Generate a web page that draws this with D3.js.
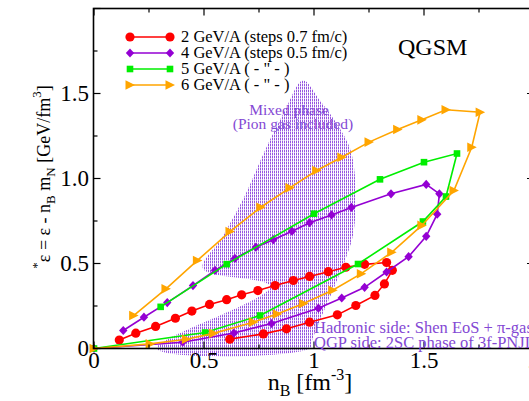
<!DOCTYPE html>
<html>
<head>
<meta charset="utf-8">
<script src="https://cdn.jsdelivr.net/npm/d3@7"></script>
<style>
  body { margin: 0; background: #fff; }
  svg { display: block; font-family: "Liberation Serif", "DejaVu Serif", serif; }
</style>
</head>
<body>
<div id="chart"></div>
<script>
/* trajectories in the (nB, eps*) plane, QGSM */

var w = 529,
	h = 401;

// 2 GeV/A, steps 0.7 fm/c
var red_x = [0.115, 0.19, 0.28, 0.37, 0.445, 0.525, 0.603, 0.671, 0.745, 0.823, 0.906, 0.98, 1.065, 1.145, 1.23, 1.33,
	1.356, 1.32, 1.277, 1.19, 1.106, 0.98, 0.875, 0.77, 0.617];
var red_y = [0.05, 0.09, 0.13, 0.178, 0.22, 0.259, 0.287, 0.316, 0.341, 0.37, 0.4, 0.424, 0.452, 0.478, 0.495, 0.506,
	0.46, 0.38, 0.312, 0.253, 0.198, 0.155, 0.116, 0.086, 0.055];

// 4 GeV/A, steps 0.5 fm/c
var purple_x = [0.133, 0.227, 0.333, 0.45, 0.55, 0.64, 0.736, 0.815, 0.9, 0.98, 1.08, 1.17, 1.35, 1.51,
	1.57, 1.56, 1.51, 1.43, 1.33, 1.23, 1.126, 1.02, 0.807, 0.636, 0.403, 0];
var purple_y = [0.106, 0.184, 0.27, 0.37, 0.46, 0.53, 0.596, 0.64, 0.69, 0.74, 0.786, 0.83, 0.91, 0.965,
	0.91, 0.79, 0.66, 0.54, 0.45, 0.36, 0.297, 0.237, 0.147, 0.091, 0.037, 0];

// 5 GeV/A
var green_x = [0.303, 0.603, 1.0, 1.3, 1.5, 1.65, 1.6, 1.495, 1.2, 0.755, 0.505, 0];
var green_y = [0.245, 0.496, 0.793, 0.995, 1.096, 1.147, 0.894, 0.747, 0.497, 0.194, 0.094, 0];

// 6 GeV/A
var orange_x = [0.18, 0.327, 0.47, 0.618, 0.758, 0.89, 1.012, 1.126, 1.25, 1.38, 1.49, 1.6,
	1.755, 1.717, 1.636, 1.49, 1.353, 1.215, 1.085, 0.952, 0.833, 0.724, 0.543, 0.42, 0.255, 0];
var orange_y = [0.194, 0.351, 0.518, 0.688, 0.831, 0.945, 1.047, 1.125, 1.214, 1.288, 1.345, 1.404,
	1.39, 1.184, 0.929, 0.724, 0.566, 0.44, 0.343, 0.265, 0.203, 0.155, 0.089, 0.054, 0.027, 0];

// mixed phase region (pion gas included)
var mix_x = [0.286, 0.8, 0.495, 0.582, 0.686, 0.777, 0.868, 0.95, 1.027, 1.109, 1.164, 1.186, 1.19, 1.177, 1.141, 1.095, 1.036, 0.991, 0.98];
var mix_y = [0, 0.365, 0.47, 0.653, 0.9, 1.165, 1.4, 1.576, 1.459, 1.312, 1.176, 1.018, 0.841, 0.665, 0.518, 0.371, 0.194, 0.047, 0];

var series_names = ["2 GeV/A (steps 0.7 fm/c)", "4 GeV/A (steps 0.5 fm/c)", "5 GeV/A ( - \" - )", "6 GeV/A ( - \" - )"];
var series_colors = ["#ff0000", "#9400d3", "#00ee00", "#ffa500"];

var x_ticks = [0, 0.5, 1, 1.5, 2];
var x_tick_labels = ["0", "0.5", "1", "1.5", "2"];
var y_ticks = [0, 0.5, 1, 1.5];
var y_tick_labels = ["0", "0.5", "1.0", "1.5"];

var x = d3.scaleLinear().domain([0, 2]).range([94, 534]);
var y = d3.scaleLinear().domain([0, 2]).range([348.5, 8.5]);

var svg = d3.select("#chart")
	.append("svg")
	.attr("width", w)
	.attr("height", h);

var defs = svg.append("defs");
var pat = defs.append("pattern")
	.attr("id", "hatch")
	.attr("patternUnits", "userSpaceOnUse")
	.attr("width", 2)
	.attr("height", 3);
pat.append("rect")
	.attr("x", 0).attr("y", 0)
	.attr("width", 1).attr("height", 2.4)
	.attr("fill", "#9656e0");

function pts(xs, ys) {
	return xs.map(function(v, i){ return [v, ys[i]]; });
}

// hatched region
svg.append("path")
	.datum(pts(mix_x, mix_y))
	.attr("d", d3.line().x(function(d){ return x(d[0]); }).y(function(d){ return y(d[1]); }).curve(d3.curveCatmullRomClosed.alpha(0.5)))
	.attr("fill", "url(#hatch)")
	.attr("stroke", "none");

svg.append("text")
	.attr("x", 289).attr("y", 115)
	.attr("text-anchor", "middle")
	.attr("font-size", 15.5)
	.attr("fill", "#8448d4")
	.text("Mixed phase");
svg.append("text")
	.attr("x", 293).attr("y", 129)
	.attr("text-anchor", "middle")
	.attr("font-size", 15.5)
	.attr("fill", "#8448d4")
	.text("(Pion gas included)");

// markers
function marker(sel, kind, color) {
	if (kind == "circle") {
		sel.append("circle").attr("r", 4.6).attr("fill", color);
	} else if (kind == "diamond") {
		sel.append("path").attr("d", "M0,-4.6L4.2,0L0,4.6L-4.2,0Z").attr("fill", color);
	} else if (kind == "square") {
		sel.append("rect").attr("x", -3.3).attr("y", -3.3).attr("width", 6.6).attr("height", 6.6).attr("fill", color);
	} else {
		sel.append("path").attr("d", "M5,0L-4.5,-4.8L-4.5,4.8Z").attr("fill", color);
	}
}

var kinds = ["circle", "diamond", "square", "triangle"];
var all_x = [red_x, purple_x, green_x, orange_x];
var all_y = [red_y, purple_y, green_y, orange_y];

var line = d3.line()
	.x(function(d){ return x(d[0]); })
	.y(function(d){ return y(d[1]); });

all_x.forEach(function(xs, k){
	var data = pts(xs, all_y[k]);
	svg.append("path")
		.datum(data)
		.attr("d", line)
		.attr("fill", "none")
		.attr("stroke", series_colors[k])
		.attr("stroke-width", 1.6);
	svg.selectAll("g.m" + k)
		.data(data)
		.enter()
		.append("g")
		.classed("m" + k, true)
		.attr("transform", function(d){ return "translate(" + x(d[0]) + "," + y(d[1]) + ")"; })
		.each(function(){ marker(d3.select(this), kinds[k], series_colors[k]); });
});

// frame and ticks
svg.append("rect")
	.attr("x", 93.5).attr("y", 8.5)
	.attr("width", 441).attr("height", 340)
	.attr("fill", "none")
	.attr("stroke", "#000")
	.attr("stroke-width", 1.6);

d3.range(0, 2.01, 0.25).forEach(function(v){
	var major = Math.abs(v * 2 - Math.round(v * 2)) < 1e-6;
	var len = major ? 7 : 4;
	svg.append("line").attr("x1", x(v)).attr("x2", x(v)).attr("y1", 348.5).attr("y2", 348.5 - len).attr("stroke", "#000").attr("stroke-width", 1.2);
	svg.append("line").attr("x1", x(v)).attr("x2", x(v)).attr("y1", 8.5).attr("y2", 8.5 + len).attr("stroke", "#000").attr("stroke-width", 1.2);
	svg.append("line").attr("y1", y(v)).attr("y2", y(v)).attr("x1", 93.5).attr("x2", 93.5 + len).attr("stroke", "#000").attr("stroke-width", 1.2);
	svg.append("line").attr("y1", y(v)).attr("y2", y(v)).attr("x1", 534).attr("x2", 534 - len).attr("stroke", "#000").attr("stroke-width", 1.2);
});

svg.selectAll("text.xt")
	.data(x_ticks)
	.enter()
	.append("text")
	.attr("x", function(d){ return x(d); })
	.attr("y", 368)
	.attr("text-anchor", "middle")
	.attr("font-size", 23)
	.text(function(d, i){ return x_tick_labels[i]; });

svg.selectAll("text.yt")
	.data(y_ticks)
	.enter()
	.append("text")
	.attr("x", 89)
	.attr("y", function(d){ return y(d) + 7.5; })
	.attr("text-anchor", "end")
	.attr("font-size", 23)
	.text(function(d, i){ return y_tick_labels[i]; });

// axis titles
var xt = svg.append("text")
	.attr("x", 310).attr("y", 390)
	.attr("text-anchor", "middle")
	.attr("font-size", 24);
xt.append("tspan").text("n");
xt.append("tspan").attr("font-size", 16).attr("dy", 6).text("B");
xt.append("tspan").attr("dy", -6).text(" [fm");
xt.append("tspan").attr("font-size", 16).attr("dy", -10).text("-3");
xt.append("tspan").attr("dy", 10).text("]");

var yt = svg.append("text")
	.attr("transform", "translate(50,177) rotate(-90)")
	.attr("text-anchor", "middle")
	.attr("font-size", 18);
yt.append("tspan").attr("font-size", 13).attr("dy", -9).text("*");
yt.append("tspan").attr("dy", 9).text("ε = ε - n");
yt.append("tspan").attr("font-size", 13).attr("dy", 5).text("B");
yt.append("tspan").attr("dy", -5).text(" m");
yt.append("tspan").attr("font-size", 13).attr("dy", 5).text("N");
yt.append("tspan").attr("dy", -5).text(" [GeV/fm");
yt.append("tspan").attr("font-size", 13).attr("dy", -9).text("3");
yt.append("tspan").attr("dy", 9).text("]");

// legend
series_names.forEach(function(name, k){
	var ly = 37 + k * 16;
	svg.append("line")
		.attr("x1", 130).attr("x2", 170)
		.attr("y1", ly).attr("y2", ly)
		.attr("stroke", series_colors[k])
		.attr("stroke-width", 1.6);
	[130, 170].forEach(function(lx){
		var g = svg.append("g").attr("transform", "translate(" + lx + "," + ly + ")");
		marker(g, kinds[k], series_colors[k]);
	});
	svg.append("text")
		.attr("x", 181).attr("y", ly + 5)
		.attr("font-size", 16.5)
		.text(name);
});

svg.append("text")
	.attr("x", 398).attr("y", 55)
	.attr("font-size", 24)
	.text("QGSM");

svg.append("text")
	.attr("x", 314).attr("y", 333)
	.attr("font-size", 16.5)
	.attr("fill", "#8448d4")
	.text("Hadronic side: Shen EoS + π-gas");
svg.append("text")
	.attr("x", 314).attr("y", 348)
	.attr("font-size", 16.5)
	.attr("fill", "#8448d4")
	.text("QGP side: 2SC phase of 3f-PNJL");
</script>
</body>
</html>
